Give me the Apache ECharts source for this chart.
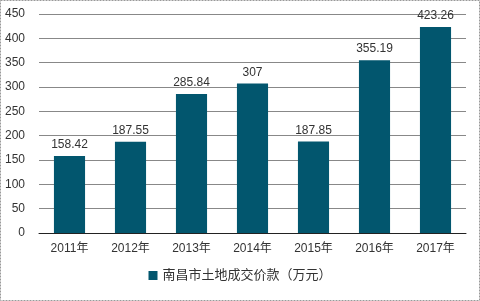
<!DOCTYPE html>
<html><head><meta charset="utf-8">
<script src="https://cdn.jsdelivr.net/npm/echarts@6/dist/echarts.min.js"></script>
<style>html,body{margin:0;padding:0;background:#fff}#c{width:480px;height:301px}</style>
</head><body><div id="c"></div>
<script>
const categories = ['2011年','2012年','2013年','2014年','2015年','2016年','2017年'];
const values = [158.42, 187.55, 285.84, 307, 187.85, 355.19, 423.26];
const seriesName = '南昌市土地成交价款（万元）';
const yTicks = {min: 0, max: 450, interval: 50};

const chart = echarts.init(document.getElementById('c'), null, {renderer: 'canvas'});
const font = '"Liberation Sans", Arial, "Noto Sans CJK SC", sans-serif';
chart.setOption({
  animation: false,
  textStyle: {fontFamily: font},
  graphic: [{type: 'rect', shape: {x: 0.5, y: 0.5, width: 479, height: 300}, style: {fill: 'none', stroke: '#999', lineWidth: 1, lineDash: [2, 1]}, z: 100}],
  grid: {left: 39, right: 14, top: 14, bottom: 68},
  legend: {
    bottom: 14, left: 'center', itemWidth: 9, itemHeight: 9, icon: 'rect', itemGap: 4,
    textStyle: {fontSize: 13, color: '#333', fontFamily: font},
    data: [seriesName]
  },
  xAxis: {
    type: 'category', data: categories,
    axisLine: {lineStyle: {color: '#222', width: 1}},
    axisTick: {show: false},
    axisLabel: {color: '#333', fontSize: 12, margin: 10, fontFamily: font}
  },
  yAxis: {
    type: 'value', min: yTicks.min, max: yTicks.max, interval: yTicks.interval,
    axisLine: {show: false}, axisTick: {show: false},
    axisLabel: {color: '#333', fontSize: 12, margin: 14, fontFamily: font},
    splitLine: {lineStyle: {color: '#888', width: 1}}
  },
  series: [{
    name: seriesName, type: 'bar', data: values, barWidth: '51%',
    itemStyle: {color: '#02566E'},
    label: {show: true, position: 'top', distance: 5, color: '#333', fontSize: 12, fontFamily: font}
  }]
});
</script></body></html>
